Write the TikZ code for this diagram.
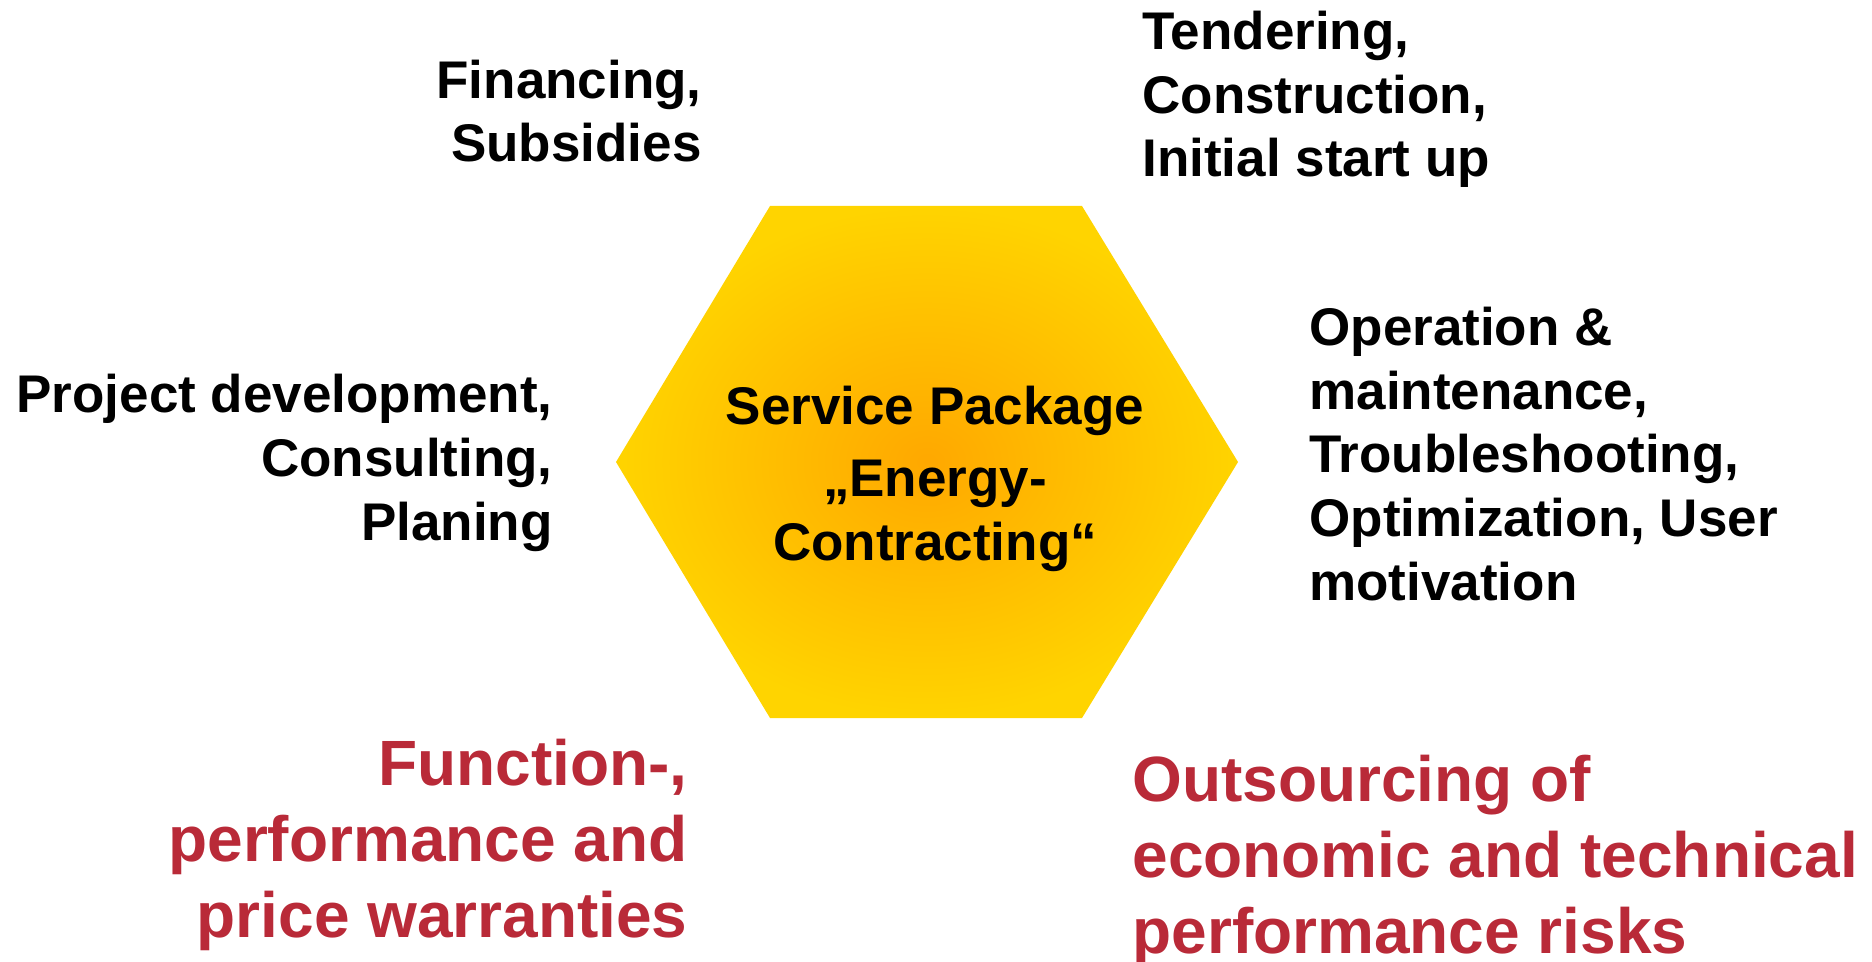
\documentclass[tikz,border=0pt]{standalone}
\usepackage{fontspec}
\setmainfont{Liberation Sans}
\definecolor{riskred}{RGB}{185,42,56}
\definecolor{hexyellow}{RGB}{255,212,0}
\definecolor{hexorange}{RGB}{255,168,0}
\tikzset{black text/.style={font=\bfseries\fontsize{26.5}{31.8}\selectfont,inner sep=0pt},
  red text/.style={font=\bfseries\fontsize{32}{37.8}\selectfont,text=riskred,inner sep=0pt},}
\begin{document}
\begin{tikzpicture}[x=0.5pt,y=-0.5pt]
  \useasboundingbox (0,0) rectangle (1872,962);
  %% Hexagon
  \shade[inner color=hexorange,outer color=hexyellow]
    (616,462) -- (770,206) -- (1082,206) -- (1238,462) -- (1082,718) -- (770,718) -- cycle;
  %% Nodes
  \node[black text,align=center,anchor=base] (package) at (935,560) {Service Package\\[4pt]„Energy-\\Contracting“};
  \node[black text,align=right,anchor=base east] (financing) at (702,162) {Financing,\\Subsidies};
  \node[black text,align=left,anchor=base west] (tendering) at (1142,177) {Tendering,\\Construction,\\Initial start up};
  \node[black text,align=right,anchor=base east] (project) at (553,540) {Project development,\\Consulting,\\Planing};
  \node[black text,align=left,anchor=base west] (operation) at (1309,600) {Operation \&\\maintenance,\\Troubleshooting,\\Optimization, User\\motivation};
  \node[red text,align=right,anchor=base east] (warranties) at (688,937) {Function-,\\performance and\\price warranties};
  \node[red text,align=left,anchor=base west] (outsourcing) at (1132,953) {Outsourcing of\\economic and technical\\performance risks};
\end{tikzpicture}
\end{document}
